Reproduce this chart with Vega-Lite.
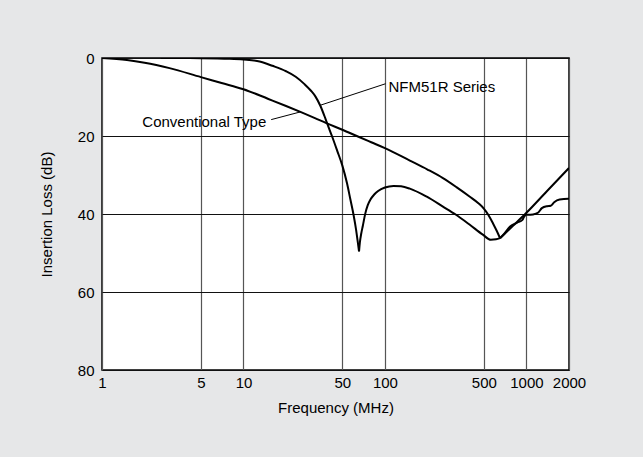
{
  "$schema": "https://vega.github.io/schema/vega-lite/v6.json",
  "width": 467,
  "height": 312,
  "autosize": {"type": "none"},
  "padding": {"left": 102, "top": 58, "right": 74, "bottom": 87},
  "background": "#e6e7e8",
  "config": {
    "view": {"fill": "white", "stroke": "black", "strokeWidth": 1.5},
    "font": "Liberation Sans",
    "axis": {
      "ticks": false,
      "tickSize": 0,
      "domain": false,
      "grid": true,
      "gridOpacity": 1,
      "gridWidth": 1.2,
      "labelFontSize": 15,
      "labelColor": "black",
      "titleFontSize": 15,
      "titleFontWeight": "normal",
      "titleColor": "black",
      "labelFont": "Liberation Sans",
      "titleFont": "Liberation Sans"
    }
  },
  "encoding": {
    "x": {
      "field": "f",
      "type": "quantitative",
      "scale": {"type": "log", "domain": [1, 2000], "nice": false},
      "axis": {
        "title": "Frequency (MHz)",
        "values": [1, 5, 10, 50, 100, 500, 1000, 2000],
        "format": "d",
        "labelFlush": false,
        "labelOverlap": false,
        "gridColor": "#555555",
        "labelPadding": 5,
        "titlePadding": 10
      }
    },
    "y": {
      "field": "db",
      "type": "quantitative",
      "scale": {"domain": [0, 80], "reverse": true, "nice": false, "zero": false},
      "axis": {
        "title": "Insertion Loss (dB)",
        "values": [0, 20, 40, 60, 80],
        "gridColor": "#111111",
        "labelPadding": 8,
        "titlePadding": 23
      }
    }
  },
  "layer": [
    {
      "data": {
        "values": [
          {"series": "Conventional Type", "seg": "C1", "f": 1, "db": 0},
          {"series": "Conventional Type", "seg": "C1", "f": 1.5, "db": 0.5},
          {"series": "Conventional Type", "seg": "C1", "f": 2, "db": 1.2},
          {"series": "Conventional Type", "seg": "C1", "f": 3, "db": 2.6},
          {"series": "Conventional Type", "seg": "C1", "f": 5, "db": 4.9},
          {"series": "Conventional Type", "seg": "C1", "f": 7, "db": 6.4},
          {"series": "Conventional Type", "seg": "C1", "f": 10, "db": 8.0},
          {"series": "Conventional Type", "seg": "C1", "f": 15, "db": 10.5},
          {"series": "Conventional Type", "seg": "C1", "f": 20, "db": 12.3},
          {"series": "Conventional Type", "seg": "C1", "f": 26, "db": 14.0},
          {"series": "Conventional Type", "seg": "C1", "f": 32, "db": 15.4},
          {"series": "Conventional Type", "seg": "C1", "f": 38.5, "db": 16.7},
          {"series": "Conventional Type", "seg": "C1", "f": 50, "db": 18.4},
          {"series": "Conventional Type", "seg": "C1", "f": 65, "db": 20.2},
          {"series": "Conventional Type", "seg": "C1", "f": 80, "db": 21.6},
          {"series": "Conventional Type", "seg": "C1", "f": 100, "db": 23.1},
          {"series": "Conventional Type", "seg": "C1", "f": 150, "db": 26.3},
          {"series": "Conventional Type", "seg": "C1", "f": 200, "db": 28.6},
          {"series": "Conventional Type", "seg": "C1", "f": 257, "db": 30.8},
          {"series": "Conventional Type", "seg": "C1", "f": 320, "db": 33.1},
          {"series": "Conventional Type", "seg": "C1", "f": 396, "db": 35.5},
          {"series": "Conventional Type", "seg": "C1", "f": 460, "db": 37.3},
          {"series": "Conventional Type", "seg": "C1", "f": 500, "db": 38.6},
          {"series": "Conventional Type", "seg": "C1", "f": 540, "db": 40.3},
          {"series": "Conventional Type", "seg": "C1", "f": 582, "db": 42.5},
          {"series": "Conventional Type", "seg": "C1", "f": 620, "db": 44.5},
          {"series": "Conventional Type", "seg": "C1", "f": 651, "db": 46.2},
          {"series": "Conventional Type", "seg": "C2", "f": 651, "db": 46.2},
          {"series": "Conventional Type", "seg": "C2", "f": 800, "db": 43.1},
          {"series": "Conventional Type", "seg": "C2", "f": 1000, "db": 39.7},
          {"series": "Conventional Type", "seg": "C2", "f": 1400, "db": 34.1},
          {"series": "Conventional Type", "seg": "C2", "f": 2000, "db": 28.2},
          {"series": "NFM51R Series", "seg": "N1", "f": 2.6, "db": 0},
          {"series": "NFM51R Series", "seg": "N1", "f": 5, "db": 0.05},
          {"series": "NFM51R Series", "seg": "N1", "f": 8, "db": 0.2},
          {"series": "NFM51R Series", "seg": "N1", "f": 10, "db": 0.4},
          {"series": "NFM51R Series", "seg": "N1", "f": 13, "db": 0.9},
          {"series": "NFM51R Series", "seg": "N1", "f": 16, "db": 2.0},
          {"series": "NFM51R Series", "seg": "N1", "f": 20, "db": 3.4},
          {"series": "NFM51R Series", "seg": "N1", "f": 23.4, "db": 4.8},
          {"series": "NFM51R Series", "seg": "N1", "f": 27, "db": 6.7},
          {"series": "NFM51R Series", "seg": "N1", "f": 30, "db": 8.4},
          {"series": "NFM51R Series", "seg": "N1", "f": 32.3, "db": 9.9},
          {"series": "NFM51R Series", "seg": "N1", "f": 35, "db": 12.3},
          {"series": "NFM51R Series", "seg": "N1", "f": 38, "db": 15.6},
          {"series": "NFM51R Series", "seg": "N1", "f": 40, "db": 17.8},
          {"series": "NFM51R Series", "seg": "N1", "f": 42.2, "db": 20.0},
          {"series": "NFM51R Series", "seg": "N1", "f": 46, "db": 23.8},
          {"series": "NFM51R Series", "seg": "N1", "f": 50, "db": 27.6},
          {"series": "NFM51R Series", "seg": "N1", "f": 54, "db": 32.2},
          {"series": "NFM51R Series", "seg": "N1", "f": 57, "db": 36.3},
          {"series": "NFM51R Series", "seg": "N1", "f": 60.2, "db": 40.5},
          {"series": "NFM51R Series", "seg": "N1", "f": 62.5, "db": 44.0},
          {"series": "NFM51R Series", "seg": "N1", "f": 64.5, "db": 47.6},
          {"series": "NFM51R Series", "seg": "N1", "f": 65.6, "db": 49.6},
          {"series": "NFM51R Series", "seg": "N2", "f": 65.6, "db": 49.6},
          {"series": "NFM51R Series", "seg": "N2", "f": 66.5, "db": 47.3},
          {"series": "NFM51R Series", "seg": "N2", "f": 68, "db": 45.0},
          {"series": "NFM51R Series", "seg": "N2", "f": 69.8, "db": 43.0},
          {"series": "NFM51R Series", "seg": "N2", "f": 72.6, "db": 39.9},
          {"series": "NFM51R Series", "seg": "N2", "f": 75.5, "db": 37.8},
          {"series": "NFM51R Series", "seg": "N2", "f": 79, "db": 36.3},
          {"series": "NFM51R Series", "seg": "N2", "f": 84, "db": 35.0},
          {"series": "NFM51R Series", "seg": "N2", "f": 89.5, "db": 34.1},
          {"series": "NFM51R Series", "seg": "N2", "f": 100, "db": 33.2},
          {"series": "NFM51R Series", "seg": "N2", "f": 115, "db": 32.8},
          {"series": "NFM51R Series", "seg": "N2", "f": 130, "db": 32.9},
          {"series": "NFM51R Series", "seg": "N2", "f": 150, "db": 33.5},
          {"series": "NFM51R Series", "seg": "N2", "f": 196, "db": 35.5},
          {"series": "NFM51R Series", "seg": "N2", "f": 257, "db": 38.1},
          {"series": "NFM51R Series", "seg": "N2", "f": 318, "db": 40.2},
          {"series": "NFM51R Series", "seg": "N2", "f": 396, "db": 42.7},
          {"series": "NFM51R Series", "seg": "N2", "f": 492, "db": 45.3},
          {"series": "NFM51R Series", "seg": "N2", "f": 560, "db": 46.6},
          {"series": "NFM51R Series", "seg": "N2", "f": 610, "db": 46.5},
          {"series": "NFM51R Series", "seg": "N2", "f": 651, "db": 46.2},
          {"series": "NFM51R Series", "seg": "N3", "f": 651, "db": 46.2},
          {"series": "NFM51R Series", "seg": "N3", "f": 700, "db": 45.0},
          {"series": "NFM51R Series", "seg": "N3", "f": 767, "db": 43.2},
          {"series": "NFM51R Series", "seg": "N3", "f": 861, "db": 42.2},
          {"series": "NFM51R Series", "seg": "N3", "f": 938, "db": 41.5},
          {"series": "NFM51R Series", "seg": "N3", "f": 966, "db": 40.6},
          {"series": "NFM51R Series", "seg": "N3", "f": 1000, "db": 40.1},
          {"series": "NFM51R Series", "seg": "N3", "f": 1022, "db": 40.2},
          {"series": "NFM51R Series", "seg": "N3", "f": 1114, "db": 40.1},
          {"series": "NFM51R Series", "seg": "N3", "f": 1214, "db": 39.6},
          {"series": "NFM51R Series", "seg": "N3", "f": 1286, "db": 38.5},
          {"series": "NFM51R Series", "seg": "N3", "f": 1400, "db": 38.0},
          {"series": "NFM51R Series", "seg": "N3", "f": 1485, "db": 37.9},
          {"series": "NFM51R Series", "seg": "N3", "f": 1571, "db": 37.0},
          {"series": "NFM51R Series", "seg": "N3", "f": 1716, "db": 36.3},
          {"series": "NFM51R Series", "seg": "N3", "f": 1975, "db": 36.1},
          {"series": "NFM51R Series", "seg": "N3", "f": 2000, "db": 36.1}
        ]
      },
      "mark": {"type": "line", "color": "black", "strokeWidth": 2, "clip": true, "interpolate": "monotone"},
      "encoding": {"detail": {"field": "seg", "type": "nominal"}}
    },
    {
      "data": {
        "values": [
          {"f": 15.7, "db": 15.8, "f2": 25.4, "db2": 13.8},
          {"f": 35, "db": 12.1, "f2": 101, "db2": 6.6}
        ]
      },
      "mark": {"type": "rule", "color": "black", "strokeWidth": 1},
      "encoding": {
        "x2": {"field": "f2"},
        "y2": {"field": "db2"}
      }
    },
    {
      "data": {"values": [{"label": "Conventional Type", "f": 14.5, "db": 16.3}]},
      "mark": {"type": "text", "align": "right", "baseline": "middle", "fontSize": 15, "font": "Liberation Sans", "color": "black"},
      "encoding": {"text": {"field": "label"}}
    },
    {
      "data": {"values": [{"label": "NFM51R Series", "f": 106, "db": 7.5}]},
      "mark": {"type": "text", "align": "left", "baseline": "middle", "fontSize": 15, "font": "Liberation Sans", "color": "black"},
      "encoding": {"text": {"field": "label"}}
    }
  ]
}
